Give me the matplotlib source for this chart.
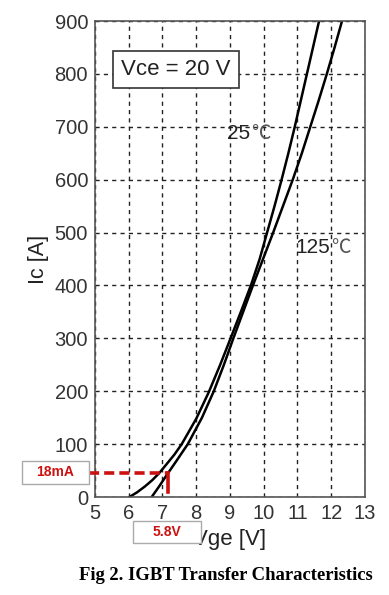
import matplotlib.pyplot as plt
from matplotlib.patches import Rectangle

plt.rcParams['font.family'] = ['Liberation Sans', 'DejaVu Sans']

# 25℃ 曲线 (Vge, Ic)
vge_25 = [6.02, 6.25, 6.48, 6.7, 6.9, 7.12, 7.35, 7.57, 8.0, 8.37, 8.71, 9.03, 9.34,
          9.63, 9.88, 10.1, 10.32, 10.53, 10.73, 10.92, 11.1, 11.28, 11.46, 11.64]
ic_25 = [0, 9, 20, 32, 45, 62, 80, 100, 148, 198, 250, 302, 353,
         402, 450, 500, 550, 600, 650, 700, 750, 800, 850, 900]

# 125℃ 曲线
vge_125 = [6.68, 6.9, 7.13, 7.4, 7.75, 8.17, 8.52, 8.82, 9.1, 9.39, 9.68, 9.98,
           10.28, 10.57, 10.86, 11.13, 11.38, 11.63, 11.87, 12.1, 12.32]
ic_125 = [0, 20, 42, 67, 100, 150, 200, 250, 300, 350, 400, 450,
          500, 550, 600, 650, 700, 750, 800, 850, 900]

xticks = list(range(5, 14))
yticks = list(range(0, 1000, 100))

# 标注点
ann_v = 7.17
ann_i = 45
ann_i_label = '18mA'
ann_v_label = '5.8V'

fig = plt.figure(figsize=(3.89, 5.95), dpi=100)
ax = fig.add_axes([0.2442, 0.1647, 0.694, 0.8])

ax.plot(vge_25, ic_25, color='black', lw=1.8, solid_joinstyle='round')
ax.plot(vge_125, ic_125, color='black', lw=1.8, solid_joinstyle='round')

ax.set_xlim(5, 13)
ax.set_ylim(0, 900)
ax.set_xticks(xticks)
ax.set_yticks(yticks)
ax.tick_params(labelsize=14.5, colors='#333333', length=0, pad=5)
ax.grid(True, color='#222222', linestyle=(0, (3, 3)), lw=1)
for s in ax.spines.values():
    s.set_color('#555555')
    s.set_linewidth(1.2)

ax.set_xlabel('Vge [V]', fontsize=16, color='#222222', labelpad=4)
ax.set_ylabel('Ic [A]', fontsize=15.5, color='#222222', labelpad=4)

ax.text(7.4, 808, 'Vce = 20 V', fontsize=16, color='#222222', ha='center', va='center',
        bbox=dict(boxstyle='square,pad=0.35', fc='white', ec='#333333', lw=1.2))
ax.text(9.24, 688, '25', fontsize=15, color='#222222', ha='center', va='center')
ax.text(9.92, 688, '℃', fontsize=14, color='#555555', ha='center', va='center',
        family=['Noto Sans CJK SC'])
ax.text(11.44, 472, '125', fontsize=15, color='#222222', ha='center', va='center')
ax.text(12.29, 472, '℃', fontsize=14, color='#555555', ha='center', va='center',
        family=['Noto Sans CJK SC'])

red = '#cc1111'
ax.plot([4.82, ann_v], [ann_i, ann_i], color=red, lw=2.6, linestyle=(0, (2.8, 1.4)),
        clip_on=False, zorder=5)
ax.plot([ann_v, ann_v], [ann_i, 9], color=red, lw=2.6, clip_on=False, zorder=5)

ax.add_patch(Rectangle((2.83, 24.6), 1.99, 44, fc='white', ec='#aaaaaa', lw=1,
                       clip_on=False, zorder=6))
ax.text(3.82, 46.6, ann_i_label, fontsize=10, fontweight='bold', color=red,
        ha='center', va='center', zorder=7)
ax.add_patch(Rectangle((6.12, -87.5), 2.02, 42.7, fc='white', ec='#aaaaaa', lw=1,
                       clip_on=False, zorder=6))
ax.text(7.13, -66, ann_v_label, fontsize=10, fontweight='bold', color=red,
        ha='center', va='center', zorder=7)

fig.text(0.58, 0.032, 'Fig 2. IGBT Transfer Characteristics', fontsize=13.4,
         fontweight='bold', family=['Liberation Serif'], ha='center', va='center')

fig.savefig('out.png', dpi=100)
